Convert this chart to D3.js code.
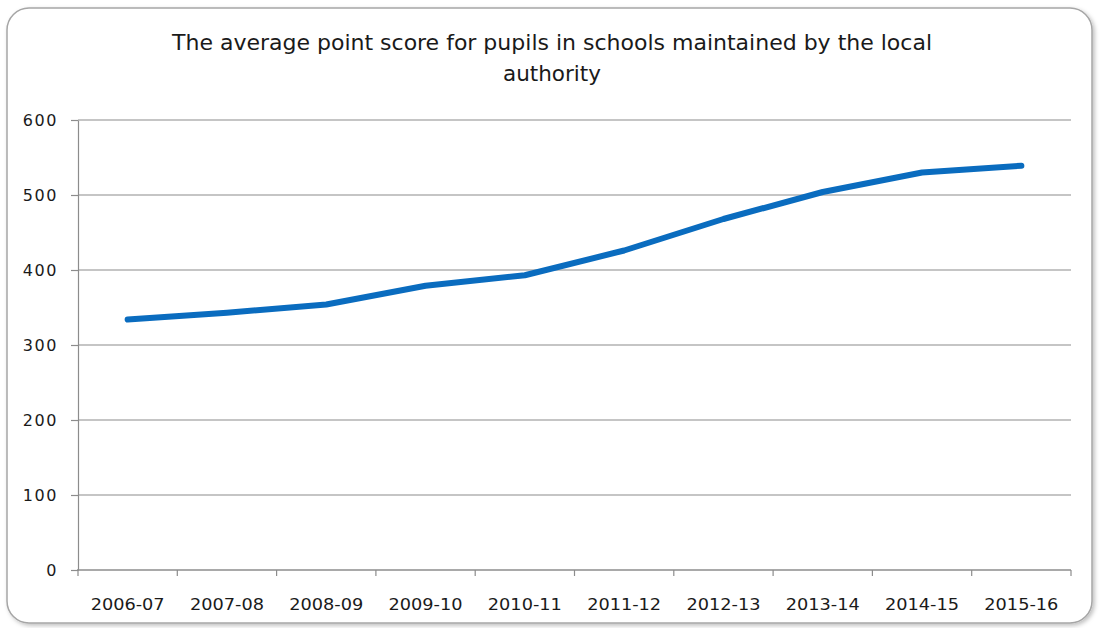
<!DOCTYPE html>
<html>
<head>
<meta charset="utf-8">
<script src="https://cdn.jsdelivr.net/npm/d3@7"></script>
<style>
  html, body { margin: 0; padding: 0; background: #ffffff; }
  svg { display: block; }
</style>
</head>
<body>
<svg id="chart" width="1101" height="628"></svg>
<script>
// Average point score, by academic year
const years = ["2006-07", "2007-08", "2008-09", "2009-10", "2010-11",
               "2011-12", "2012-13", "2013-14", "2014-15", "2015-16"];
const scores = [334, 343, 354, 379, 393, 426, 468, 504, 530, 539];
const yTicks = [0, 100, 200, 300, 400, 500, 600];
const titleLines = ["The average point score for pupils in schools maintained by the local",
                    "authority"];

const svg = d3.select("#chart");
const W = 1101, H = 628;
const margin = { left: 78, right: 30, top: 120, bottom: 58 };

// Chart frame with soft shadow
const defs = svg.append("defs");
const f = defs.append("filter").attr("id", "shadow")
  .attr("x", "-5%").attr("y", "-5%").attr("width", "110%").attr("height", "110%");
f.append("feDropShadow").attr("dx", 2).attr("dy", 2).attr("stdDeviation", 2)
  .attr("flood-color", "#000").attr("flood-opacity", 0.25);

svg.append("rect")
  .attr("x", 7).attr("y", 8).attr("width", 1085).attr("height", 615)
  .attr("rx", 22).attr("ry", 22)
  .attr("fill", "#fff").attr("stroke", "#a6a6a6").attr("stroke-width", 1.5)
  .attr("filter", "url(#shadow)");

const x = d3.scaleBand().domain(years).range([margin.left, W - margin.right]);
const y = d3.scaleLinear().domain([0, 600]).range([H - margin.bottom, margin.top]);

// Horizontal gridlines
svg.append("g").selectAll("line").data(yTicks.filter(d => d > 0)).join("line")
  .attr("x1", margin.left).attr("x2", W - margin.right)
  .attr("y1", d => y(d)).attr("y2", d => y(d))
  .attr("stroke", "#8c8c8c").attr("stroke-width", 1.2);

// Y axis
const yAxis = svg.append("g")
  .attr("transform", `translate(${margin.left},0)`)
  .call(d3.axisLeft(y).tickValues(yTicks).tickSize(7).tickPadding(13).tickSizeOuter(0));
yAxis.select(".domain").attr("stroke", "#8c8c8c").attr("stroke-width", 1.2);
yAxis.selectAll(".tick line").attr("stroke", "#8c8c8c").attr("stroke-width", 1.2);
yAxis.selectAll(".tick text")
  .attr("font-family", "'DejaVu Sans', Verdana, sans-serif")
  .attr("font-size", 16).attr("fill", "#1a1a1a").attr("letter-spacing", 1.6)
  .attr("dy", "0.36em");

// X axis with ticks on category boundaries
const xAxisG = svg.append("g").attr("transform", `translate(0,${y(0)})`);
xAxisG.append("line")
  .attr("x1", margin.left - 1).attr("x2", W - margin.right)
  .attr("stroke", "#8c8c8c").attr("stroke-width", 1.5);
const bounds = years.map(d => x(d)).concat([x(years[years.length - 1]) + x.bandwidth()]);
xAxisG.selectAll("line.tk").data(bounds).join("line").attr("class", "tk")
  .attr("x1", d => d).attr("x2", d => d).attr("y1", 0).attr("y2", 6)
  .attr("stroke", "#8c8c8c").attr("stroke-width", 1.2);
xAxisG.selectAll("text").data(years).join("text")
  .attr("x", d => x(d) + x.bandwidth() / 2).attr("y", 40)
  .attr("text-anchor", "middle")
  .attr("font-family", "'DejaVu Sans Condensed', 'Liberation Sans Narrow', sans-serif")
  .attr("font-size", 16).attr("fill", "#1a1a1a")
  .attr("textLength", 74).attr("lengthAdjust", "spacingAndGlyphs")
  .text(d => d);

// Title
svg.append("g").selectAll("text").data(titleLines).join("text")
  .attr("x", 552).attr("y", (d, i) => 50 + i * 31)
  .attr("text-anchor", "middle")
  .attr("font-family", "'DejaVu Sans Condensed', 'Liberation Sans Narrow', sans-serif")
  .attr("font-size", 21).attr("fill", "#1a1a1a")
  .attr("textLength", (d, i) => i === 0 ? 760 : 98).attr("lengthAdjust", "spacingAndGlyphs")
  .text(d => d);

// Score line
const line = d3.line()
  .x((d, i) => x(years[i]) + x.bandwidth() / 2)
  .y(d => y(d));

svg.append("path").datum(scores)
  .attr("d", line)
  .attr("fill", "none").attr("stroke", "#0a6cbf").attr("stroke-width", 6)
  .attr("stroke-linecap", "round").attr("stroke-linejoin", "round");
</script>
</body>
</html>
